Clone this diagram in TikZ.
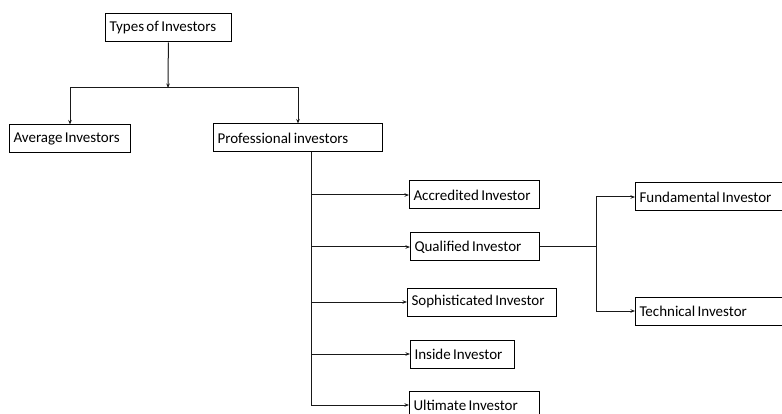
\documentclass[tikz,border=0pt]{standalone}
\usepackage{fontspec}
\setmainfont{Carlito}[WordSpace=0.7]
\usetikzlibrary{arrows.meta,positioning}

\begin{document}
\begin{tikzpicture}[x=1pt, y=-1pt, >={Stealth[length=4.5pt,width=3.5pt]},
	   font=\fontsize{15}{17}\selectfont,
	   b/.style={draw, line width=1pt, inner xsep=4pt, minimum height=28pt, anchor=west, align=flush left},
	   l/.style={line width=1pt, draw=black!90}]
	  \useasboundingbox (0,0) rectangle (782,414);
	  \clip (0,0) rectangle (782,414);
	  % top levels
	  \node[b, text width=118pt] (types) at (105,28) {Types of Investors};
	  \node[b, text width=113pt] (avg) at (9,139) {Average Investors};
	  \node[b, text width=161pt] (prof) at (213,138) {Professional investors};
	  % kinds of professional investors
	  \node[b, text width=122pt] (acc) at (409,195) {Accredited Investor};
	  \node[b, text width=121pt] (qual) at (410,247) {Qualified Investor};
	  \node[b, text width=141pt] (soph) at (407,302) {Sophisticated Investor};
	  \node[b, text width=96pt] (ins) at (410,354) {Inside Investor};
	  \node[b, text width=122pt] (ult) at (409,405) {Ultimate Investor};
	  \node[b, text width=152pt] (fund) at (635,197) {Fundamental Investor};
	  \node[b, text width=152pt] (tech) at (635,311) {Technical Investor};
	  \coordinate (split) at (168,88);
	  \coordinate (trunk) at (311,152);
	  \coordinate (fork) at (596,247);
	  \draw[l,->] (types) -- (split);
	  \draw[l,->] (split) -| (avg);
	  \draw[l,->] (split) -| (prof.north);
	  \draw[l] (trunk) -- (trunk |- ult.west);
	  \foreach \n in {acc,qual,soph,ins,ult}
	    \draw[l,->] (trunk |- \n.west) -- (\n.west);
	  \draw[l] (qual) -- (fork);
	  \draw[l,->] (fork) |- (fund.west);
	  \draw[l,->] (fork) |- (tech.west);
	\end{tikzpicture}
\end{document}
